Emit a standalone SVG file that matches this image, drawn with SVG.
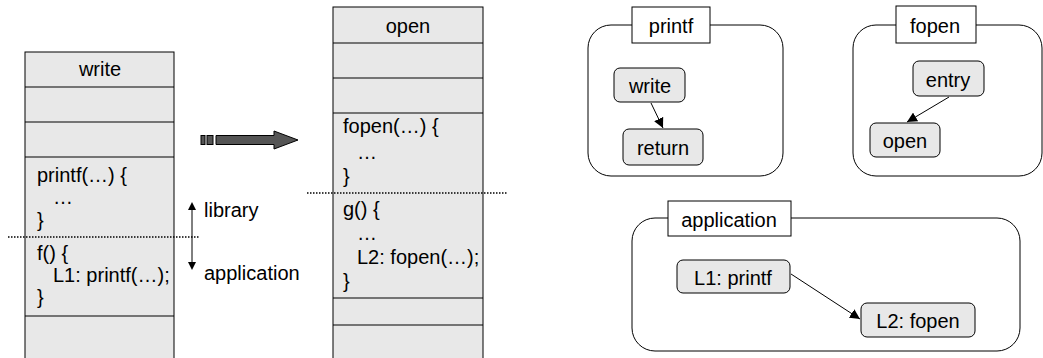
<svg xmlns="http://www.w3.org/2000/svg" width="1043" height="358" viewBox="0 0 1043 358">
<style>
text{font-family:"Liberation Sans",Arial,sans-serif;font-size:20px;fill:#000}
.c{text-anchor:middle}
.cell{fill:#e8e8e8;stroke:#000;stroke-width:1}
.sep{stroke:#000;stroke-width:1}
.dot{stroke:#000;stroke-width:1.5;stroke-dasharray:1.5,1.5}
.cont{fill:#fff;stroke:#000;stroke-width:1}
.lab{fill:#fff;stroke:#000;stroke-width:1}
.node{fill:#e8e8e8;stroke:#000;stroke-width:1}
.edge{stroke:#000;stroke-width:1;fill:none}
</style>
<defs>
<marker id="ah" viewBox="0 0 10 10" refX="10" refY="5" markerWidth="10" markerHeight="10" markerUnits="userSpaceOnUse" orient="auto">
<path d="M0,0 L10,5 L0,10 z" fill="#000"/>
</marker>
</defs>
<g id="stack-left">
<rect class="cell" x="25" y="52" width="149" height="310"/>
<line class="sep" x1="25" y1="87" x2="174" y2="87"/>
<line class="sep" x1="25" y1="122" x2="174" y2="122"/>
<line class="sep" x1="25" y1="157" x2="174" y2="157"/>
<line class="sep" x1="25" y1="316" x2="174" y2="316"/>
<text class="c" x="100" y="76">write</text>
<text x="37" y="182">printf(…) {</text>
<text x="53" y="204">…</text>
<text x="37" y="227">}</text>
<text x="37" y="260">f() {</text>
<text x="53" y="282">L1: printf(…);</text>
<text x="37" y="304">}</text>
</g>
<g id="stack-right">
<rect class="cell" x="333" y="7" width="150" height="355"/>
<line class="sep" x1="333" y1="43" x2="483" y2="43"/>
<line class="sep" x1="333" y1="78" x2="483" y2="78"/>
<line class="sep" x1="333" y1="113" x2="483" y2="113"/>
<line class="sep" x1="333" y1="298" x2="483" y2="298"/>
<line class="sep" x1="333" y1="325" x2="483" y2="325"/>
<text class="c" x="408" y="33">open</text>
<text x="343" y="133">fopen(…) {</text>
<text x="357" y="159">…</text>
<text x="343" y="183">}</text>
<text x="343" y="216">g() {</text>
<text x="357" y="240">…</text>
<text x="357" y="264">L2: fopen(…);</text>
<text x="343" y="288">}</text>
</g>
<g id="boundaries">
<line class="dot" x1="8" y1="237" x2="200" y2="237"/>
<line class="dot" x1="307" y1="193" x2="507" y2="193"/>
</g>
<g id="lib-app">
<line class="edge" x1="192" y1="209" x2="192" y2="263"/>
<path d="M192,202 L188,210 L196,210 z" fill="#000"/>
<path d="M192,270 L188,262 L196,262 z" fill="#000"/>
<text x="204" y="217">library</text>
<text x="204" y="280">application</text>
</g>
<g id="block-arrow" fill="#555" stroke="#000" stroke-width="1">
<rect x="201" y="135.5" width="4" height="9"/>
<rect x="207" y="135.5" width="6" height="9"/>
<path d="M216,135.5 L274,135.5 L274,131 L298,140 L274,149 L274,144.5 L216,144.5 z"/>
</g>
<g id="printf-group">
<rect class="cont" x="588" y="25" width="195" height="151" rx="23"/>
<rect class="lab" x="632" y="7" width="78" height="36"/>
<text class="c" x="671" y="33">printf</text>
</g>
<g id="write-node">
<rect class="node" x="614" y="68" width="71" height="34" rx="6"/>
<text class="c" x="650" y="93">write</text>
</g>
<g id="return-node">
<rect class="node" x="623" y="129" width="80" height="36" rx="6"/>
<text class="c" x="663" y="155">return</text>
</g>
<g id="fopen-group">
<rect class="cont" x="853" y="25" width="189" height="151" rx="23"/>
<rect class="lab" x="896" y="6" width="80" height="37"/>
<text class="c" x="935" y="33">fopen</text>
</g>
<g id="entry-node">
<rect class="node" x="913" y="61" width="71" height="35" rx="6"/>
<text class="c" x="948" y="87">entry</text>
</g>
<g id="open-node">
<rect class="node" x="870" y="123" width="70" height="34" rx="6"/>
<text class="c" x="905" y="148">open</text>
</g>
<g id="application-group">
<rect class="cont" x="632" y="218" width="388" height="133" rx="23"/>
<rect class="lab" x="668" y="201" width="123" height="35"/>
<text class="c" x="729" y="227">application</text>
</g>
<g id="l1-node">
<rect class="node" x="677" y="260" width="113" height="33" rx="6"/>
<text class="c" x="733" y="285">L1: printf</text>
</g>
<g id="l2-node">
<rect class="node" x="861" y="303" width="114" height="34" rx="6"/>
<text class="c" x="918" y="328">L2: fopen</text>
</g>
<g id="connectors">
<line class="edge" x1="651" y1="103" x2="663" y2="128" marker-end="url(#ah)"/>
<line class="edge" x1="949" y1="97" x2="907" y2="122" marker-end="url(#ah)"/>
<line class="edge" x1="791" y1="274" x2="860" y2="319" marker-end="url(#ah)"/>
</g>
</svg>
